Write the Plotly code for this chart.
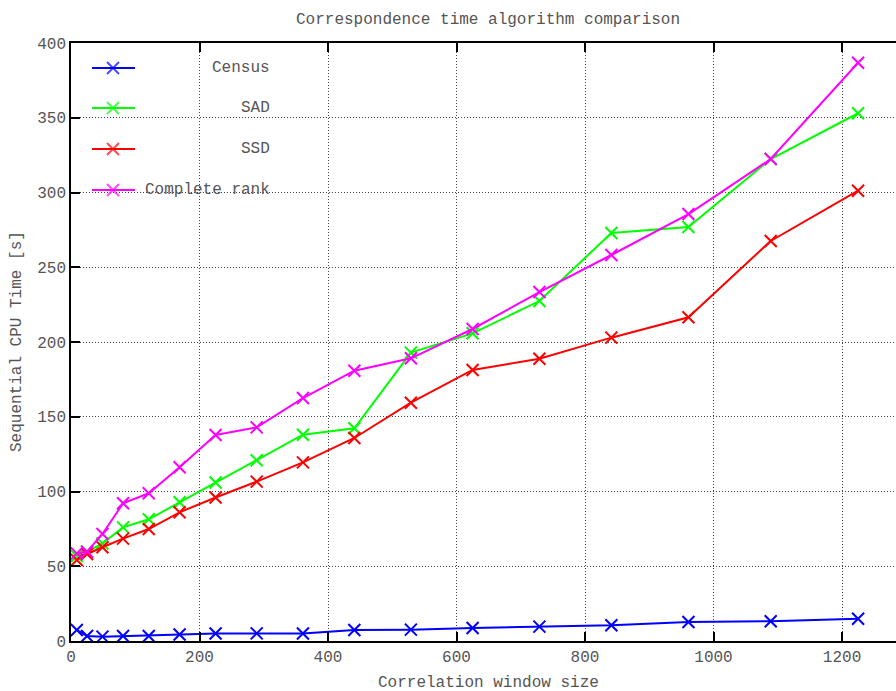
import plotly.graph_objects as go

window_size = [9, 25, 49, 81, 121, 169, 225, 289, 361, 441, 529, 625, 729, 841, 961, 1089, 1225]
census = [7.4, 3.3, 2.9, 3.3, 3.3, 4.3, 5.0, 5.1, 5.0, 7.4, 7.6, 8.7, 9.6, 10.5, 12.7, 13.2, 14.9]
sad = [56.9, 59.8, 65.3, 76.0, 81.4, 92.8, 106.0, 120.9, 138.0, 142.3, 192.9, 205.8, 227.4, 272.9, 276.9, 322.4, 353.0]
ssd = [54.2, 58.2, 62.7, 68.5, 74.9, 86.1, 96.0, 106.6, 119.5, 135.8, 159.4, 181.3, 188.8, 202.9, 216.5, 267.6, 301.2]
complete_rank = [58.6, 59.8, 71.6, 92.1, 98.8, 116.2, 137.8, 142.9, 162.5, 180.8, 189.1, 208.7, 233.4, 258.2, 285.6, 322.4, 386.8]

series_names = ["Census", "SAD", "SSD", "Complete rank"]
series_values = [census, sad, ssd, complete_rank]
series_colors = ["#0000ff", "#00ff00", "#ff0000", "#ff00ff"]

x_ticks = [0, 200, 400, 600, 800, 1000, 1200]
y_ticks = [0, 50, 100, 150, 200, 250, 300, 350, 400]

FONT = "Liberation Mono, Courier New, monospace"
TXT = "#555555"

W, H = 896, 691
L, R, T, B = 71, 0, 43, 50
pw, ph = W - L - R, H - T - B

def px_x(p):
    return (p - L) / pw

def px_y(p):
    return (H - B - p) / ph

fig = go.Figure()

for name, vals, col in zip(series_names, series_values, series_colors):
    fig.add_trace(go.Scatter(
        x=window_size, y=vals, name=name, mode="lines+markers",
        line=dict(color=col, width=2),
        marker=dict(symbol="x-thin-open", size=12, line=dict(color=col, width=2)),
        showlegend=False, cliponaxis=False,
    ))

# manual key (gnuplot style)
key_rows = [68, 108, 149, 190]
for name, col, ry in zip(series_names, series_colors, key_rows):
    yy = px_y(ry)
    fig.add_trace(go.Scatter(
        x=[px_x(92), px_x(113), px_x(135)], y=[yy, yy, yy],
        xaxis="x2", yaxis="y2", mode="lines+markers",
        line=dict(color=col, width=2),
        marker=dict(symbol="x-thin-open", size=[0, 12, 0], line=dict(color=col, width=2)),
        showlegend=False, hoverinfo="skip",
    ))
    fig.add_annotation(x=px_x(272), y=yy, xref="paper", yref="paper",
                       text=name, showarrow=False, xanchor="right", yanchor="middle",
                       font=dict(family=FONT, size=16, color=TXT))

# white background behind key, above grid
fig.add_shape(type="rect", xref="paper", yref="paper",
              x0=0.001, x1=px_x(270), y0=px_y(207), y1=0.998,
              fillcolor="white", line=dict(width=0), layer="between")

axis_common = dict(
    showgrid=True, gridcolor="#444444", griddash="1px,2px", gridwidth=1,
    zeroline=False, showline=True, linecolor="black", linewidth=1.5,
    ticks="inside", ticklen=9, tickcolor="black", tickwidth=1.5,
    tickfont=dict(family=FONT, size=16, color=TXT),
)

fig.update_layout(
    width=W, height=H,
    margin=dict(l=L, r=R, t=T, b=B),
    paper_bgcolor="white", plot_bgcolor="white",
    xaxis=dict(range=[0, 1284], tickvals=x_ticks, mirror="allticks", **axis_common),
    yaxis=dict(range=[0, 400], tickvals=y_ticks, **axis_common),
    xaxis2=dict(range=[0, 1], overlaying="x", visible=False, fixedrange=True),
    yaxis2=dict(range=[0, 1], overlaying="y", visible=False, fixedrange=True),
    showlegend=False,
)

fig.add_annotation(text="Correspondence time algorithm comparison", x=px_x(488), y=px_y(20),
                   xref="paper", yref="paper", showarrow=False, xanchor="center", yanchor="middle",
                   font=dict(family=FONT, size=16, color=TXT))
fig.add_annotation(text="Correlation window size", x=px_x(488), y=px_y(683),
                   xref="paper", yref="paper", showarrow=False, xanchor="center", yanchor="middle",
                   font=dict(family=FONT, size=16, color=TXT))
fig.add_annotation(text="Sequential CPU Time [s]", x=px_x(17), y=px_y(342),
                   xref="paper", yref="paper", showarrow=False, xanchor="center", yanchor="middle",
                   textangle=-90, font=dict(family=FONT, size=16, color=TXT))

fig.write_html("out.html")
